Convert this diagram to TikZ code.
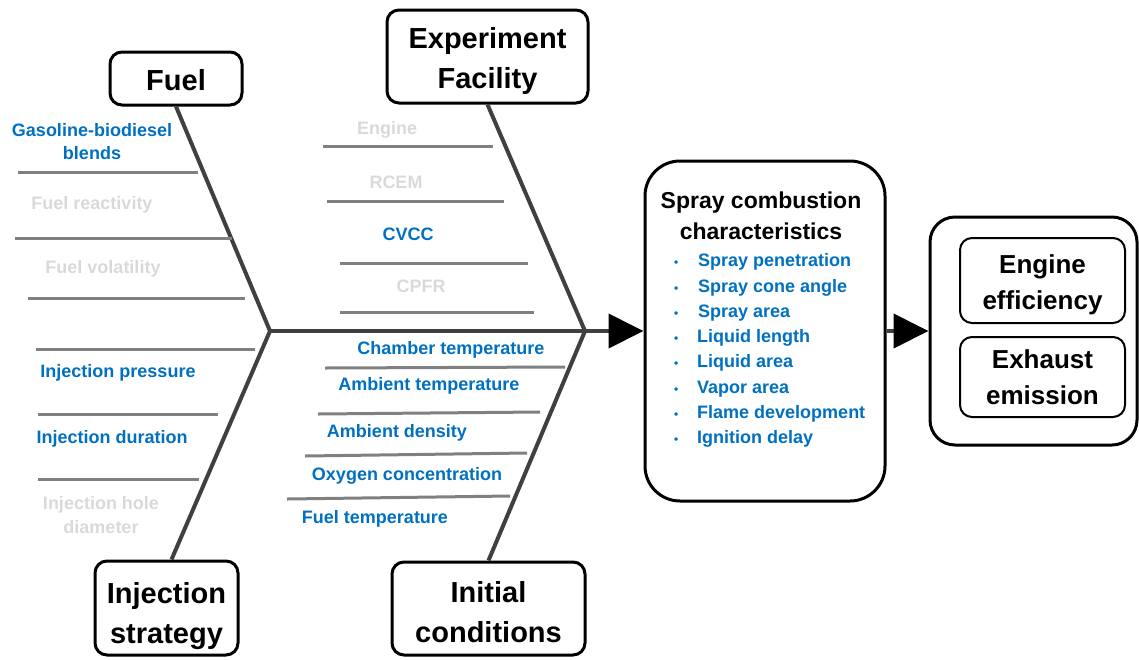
\documentclass[tikz,border=0pt]{standalone}
\usepackage{fontspec}
\setmainfont{Liberation Sans}
\usepackage{tikz}
\usetikzlibrary{arrows.meta,positioning,calc}
\definecolor{lblue}{RGB}{0,112,192}
\definecolor{faded}{RGB}{217,217,217}
\definecolor{rib}{RGB}{128,128,128}
\definecolor{bone}{RGB}{64,64,64}

\begin{document}
\begin{tikzpicture}[x=1pt, y=-1pt,
    box/.style={draw, line width=3pt, rounded corners=12pt, align=center,
                inner sep=0pt, font=\fontsize{29}{40}\selectfont\bfseries},
    lab/.style={align=center, inner sep=0pt, font=\fontsize{18}{24}\selectfont\bfseries},
    ribline/.style={draw=rib, line width=3pt},
    boneline/.style={draw=bone, line width=4pt},
    arr/.style={draw=bone, line width=4pt, -{Triangle[length=35pt, width=34pt, color=black]}}
  ]
  \useasboundingbox (0,0) rectangle (1139,659);
  % Category boxes
  \node[box, text height=24pt, text depth=0pt, minimum width=132pt, minimum height=53pt] (fuel) at (176,78.5) {Fuel};
  \node[box, text height=64pt, text depth=0pt, minimum width=201pt, minimum height=93pt] (exp) at (487.5,56.5) {Experiment\\Facility};
  \node[box, text height=71pt, text depth=0pt, minimum width=143pt, minimum height=94pt] (inj) at (166.5,608) {Injection\\strategy};
  \node[box, text height=68pt, text depth=0pt, minimum width=193pt, minimum height=93pt] (init) at (488.5,608.5) {Initial\\conditions};
  % Effect
  \node[box, rounded corners=35pt, minimum width=240pt, minimum height=340pt] (spray) at (765,331) {};
  \node[font=\fontsize{23}{31}\selectfont\bfseries, align=center, inner sep=0pt] (title) at (761,216) {Spray combustion\\characteristics};
  \node[anchor=north west, align=left, inner sep=0pt, text=lblue,
        font=\fontsize{18}{25.3}\selectfont\bfseries] (items) at (674,253.5)
    {\makebox[24pt][l]{\fontsize{12}{12}\selectfont\textbullet}Spray penetration\\
     \makebox[24pt][l]{\fontsize{12}{12}\selectfont\textbullet}Spray cone angle\\
     \makebox[24pt][l]{\fontsize{12}{12}\selectfont\textbullet}Spray area\\
     \makebox[23pt][l]{\fontsize{12}{12}\selectfont\textbullet}Liquid length\\
     \makebox[23pt][l]{\fontsize{12}{12}\selectfont\textbullet}Liquid area\\
     \makebox[23pt][l]{\fontsize{12}{12}\selectfont\textbullet}Vapor area\\
     \makebox[23pt][l]{\fontsize{12}{12}\selectfont\textbullet}Flame development\\
     \makebox[23pt][l]{\fontsize{12}{12}\selectfont\textbullet}Ignition delay};
  % Outcome
  \node[box, rounded corners=25pt, minimum width=207pt, minimum height=228pt] (outer) at (1033.5,331) {};
  \node[box, line width=2pt, font=\fontsize{26}{36}\selectfont\bfseries, text height=57.6pt, text depth=0pt,
        minimum width=165pt, minimum height=85pt] (eff) at (1042.5,280.5) {Engine\\efficiency};
  \node[box, line width=2pt, font=\fontsize{26}{36}\selectfont\bfseries, text height=54.6pt, text depth=0pt,
        minimum width=165pt, minimum height=80pt] (emis) at (1042.5,377) {Exhaust\\emission};

  % Spine and bones
  \coordinate (tail) at (270,331);
  \coordinate (mid) at (585,331);
  \draw[arr] (tail) -- (spray.west);
  \draw[arr] (spray.east) -- (outer.west);
  \draw[boneline] (fuel.south) -- (tail);
  \draw[boneline] (tail) -- ($(inj.north)+(5,0)$);
  \draw[boneline] (exp.south) -- (mid);
  \draw[boneline] (mid) -- (init.north);

  % Fuel causes
  \draw[ribline] (18,172) -- (198,172);
  \draw[ribline] (15,238) -- (232,238);
  \draw[ribline] (28,298) -- (245,298);
  \node[lab, font=\fontsize{18}{23}\selectfont\bfseries, text=lblue] (blend) at (92,142) {Gasoline-biodiesel\\blends};
  \node[lab, text=faded] (react) at (92,205) {Fuel reactivity};
  \node[lab, text=faded] (volat) at (103,269) {Fuel volatility};
  % Injection causes
  \draw[ribline] (36,349) -- (255,349);
  \draw[ribline] (38,414) -- (218,414);
  \draw[ribline] (38,479) -- (199,479);
  \node[lab, text=lblue] (press) at (118,373) {Injection pressure};
  \node[lab, text=lblue] (durat) at (112,439) {Injection duration};
  \node[lab, text=faded] (hole) at (101,515) {Injection hole\\diameter};
  % Facility causes
  \draw[ribline] (323,146) -- (493,146);
  \draw[ribline] (327,201) -- (504,201);
  \draw[ribline] (340,263) -- (528,263);
  \draw[ribline] (340,312) -- (534,312);
  \node[lab, text=faded] (engine) at (387,130) {Engine};
  \node[lab, text=faded] (rcem) at (396,182) {RCEM};
  \node[lab, text=lblue] (cvcc) at (408,234) {CVCC};
  \node[lab, text=faded] (cpfr) at (421,286) {CPFR};
  % Initial condition causes
  \draw[ribline] (325,368) -- (565,367);
  \draw[ribline] (318,414) -- (540,412);
  \draw[ribline] (305,456) -- (527,453);
  \draw[ribline] (287,499) -- (510,496);
  \node[lab, text=lblue] (chamb) at (451,350) {Chamber temperature};
  \node[lab, text=lblue] (ambt) at (429,386) {Ambient temperature};
  \node[lab, text=lblue] (ambd) at (397,433) {Ambient density};
  \node[lab, text=lblue] (oxy) at (407,476) {Oxygen concentration};
  \node[lab, text=lblue] (ftemp) at (375,519) {Fuel temperature};
\end{tikzpicture}
\end{document}
